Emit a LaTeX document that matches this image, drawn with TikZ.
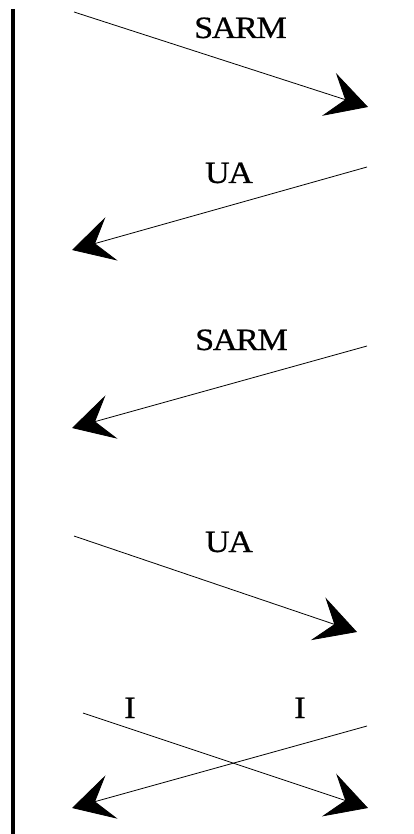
\documentclass[tikz,border=0pt]{standalone}
\usepackage{fontspec}
\setmainfont{Liberation Serif}
\newfontfamily\lblfont[LetterSpace=-4,FakeBold=0.6]{Liberation Serif}
\usetikzlibrary{arrows.meta}
\begin{document}
\begin{tikzpicture}[x=1pt,y=-1pt,
  lifeline/.style={line width=4pt},
  msg/.style={line width=0.8pt,-{Stealth[length=41pt,width=45pt,inset=17pt]}},
  lbl/.style={font=\lblfont\fontsize{31}{31}\selectfont,inner sep=0pt,anchor=base,xscale=1.1}]
  \useasboundingbox (0,0) rectangle (414,834);
  % station time line
  \coordinate (top) at (13,9);
  \coordinate (bot) at (13,834);
  \draw[lifeline] (top) -- (bot);
  % message end points
  \coordinate (s1) at (74,12);   \coordinate (e1) at (368,107);
  \coordinate (s2) at (367,167); \coordinate (e2) at (72,250);
  \coordinate (s3) at (367,346); \coordinate (e3) at (72,428);
  \coordinate (s4) at (74,536);  \coordinate (e4) at (357,632);
  \coordinate (s5) at (83,713);  \coordinate (e5) at (368,808);
  \coordinate (s6) at (367,726); \coordinate (e6) at (72,808);
  % frames exchanged
  \draw[msg] (s1) -- (e1);
  \draw[msg] (s2) -- (e2);
  \draw[msg] (s3) -- (e3);
  \draw[msg] (s4) -- (e4);
  \draw[msg] (s5) -- (e5);
  \draw[msg] (s6) -- (e6);
  % frame names
  \node[lbl] (l1) at (240.5,38) {SARM};
  \node[lbl] (l2) at (229,183) {UA};
  \node[lbl] (l3) at (241.5,350) {SARM};
  \node[lbl] (l4) at (229,552) {UA};
  \node[lbl] (l5) at (130,718) {I};
  \node[lbl] (l6) at (300,718) {I};
\end{tikzpicture}
\end{document}
